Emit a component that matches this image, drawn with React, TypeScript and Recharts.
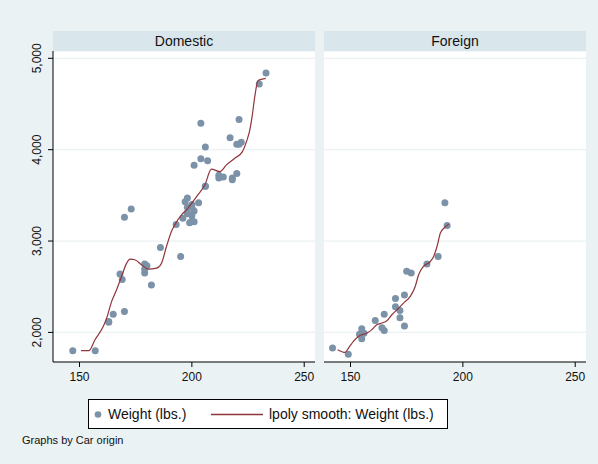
import { ComposedChart, Scatter, XAxis, YAxis, CartesianGrid } from "recharts";

if (typeof document !== "undefined") document.body.style.margin = "0";

const FONT = '"Liberation Sans", Arial, Helvetica, sans-serif';
const BG = "#eaf2f3";
const HEAD = "#d9e6eb";
const DOT = "#7b92a8";
const LINE = "#90353b";

// auto data: length (in.) and weight (lbs.)
const domLength = [186, 173, 168, 196, 222, 218, 170, 200, 207, 200, 221, 204, 204, 163, 212, 193, 200, 179, 197, 163, 206, 206, 220, 147, 179, 233, 230, 201, 169, 221, 212, 198, 217, 195, 220, 198, 198, 218, 200, 180, 206, 170, 157, 165, 182, 201, 214, 198, 201, 199, 203, 179];
const domWeight = [2930, 3350, 2640, 3250, 4080, 3670, 2230, 3280, 3880, 3400, 4330, 3900, 4290, 2110, 3690, 3180, 3220, 2750, 3430, 2120, 3600, 3600, 3740, 1800, 2650, 4840, 4720, 3830, 2580, 4060, 3720, 3370, 4130, 2830, 4060, 3310, 3300, 3690, 3370, 2730, 4030, 3260, 1800, 2200, 2520, 3330, 3700, 3470, 3210, 3200, 3420, 2690];
const forLength = [189, 174, 177, 170, 165, 170, 184, 161, 172, 149, 154, 192, 142, 164, 174, 165, 175, 172, 155, 155, 156, 193];
const forWeight = [2830, 2070, 2650, 2370, 2020, 2280, 2750, 2130, 2240, 1760, 1980, 3420, 1830, 2050, 2410, 2200, 2670, 2160, 2040, 1930, 1990, 3170];

// lpoly smooth
const domSmoothX = [150.7, 154.2, 156.9, 160.6, 162.1, 164.3, 166.5, 168.7, 171, 172.4, 174.6, 177.6, 180.6, 184.3, 186.5, 188.7, 191, 192.4, 195.4, 197.6, 202.1, 205.8, 208.7, 212.4, 215.4, 219.1, 222.5, 224.3, 225.8, 226.8, 228, 229.4, 230.9, 232.9];
const domSmoothY = [1800, 1800, 1920, 2066, 2157, 2339, 2467, 2612, 2758, 2802, 2795, 2740, 2693, 2704, 2758, 2940, 3110, 3177, 3287, 3341, 3487, 3615, 3786, 3760, 3833, 3906, 3979, 4088, 4216, 4361, 4580, 4755, 4770, 4781];
const forSmoothX = [144.3, 147.6, 149.1, 151.3, 153.5, 157.3, 159.5, 161.7, 164, 166.2, 168.4, 170.7, 173.6, 176.6, 178.8, 180.3, 182.5, 185.5, 187, 188.5, 190, 191.9, 193.7];
const forSmoothY = [1811, 1781, 1829, 1902, 1956, 1993, 2030, 2084, 2103, 2128, 2193, 2248, 2321, 2394, 2503, 2631, 2722, 2776, 2831, 2940, 3087, 3148, 3185];

const xTicks = [150, 200, 250];
const yTicks = [2000, 3000, 4000, 5000];
const panels = ["Domestic", "Foreign"];

const zip = (xs: number[], ys: number[]) => xs.map((x, i) => ({ x, y: ys[i] }));

const XTick = (p: any) => (
  <text x={p.x} y={381} textAnchor="middle" fontSize={12} fontFamily={FONT} fill="#111">
    {p.payload.value}
  </text>
);

const YTick = (p: any) => (
  <text transform={`translate(40.5, ${p.y}) rotate(-90)`} textAnchor="middle" fontSize={12} fontFamily={FONT} fill="#111">
    {p.payload.value.toLocaleString("en-US")}
  </text>
);

function Panel({ pts, smooth, left }: { pts: any[]; smooth: any[]; left: boolean }) {
  return (
    <ComposedChart
      width={left ? 320 : 274}
      height={395}
      margin={{ top: 51, right: left ? 5 : 12, bottom: 8, left: 0 }}
    >
      <CartesianGrid vertical={false} stroke={BG} strokeWidth={1.2} fill="#fff" fillOpacity={1} />
      <XAxis
        type="number"
        dataKey="x"
        domain={[138.2, 254.8]}
        ticks={xTicks}
        allowDataOverflow
        height={25}
        tickSize={5}
        stroke="#000"
        tickLine={{ stroke: "#000" }}
        tick={XTick}
      />
      <YAxis
        type="number"
        dataKey="y"
        domain={[1676, 5080]}
        ticks={yTicks}
        allowDataOverflow
        width={left ? 53 : 0}
        hide={!left}
        tickSize={5}
        stroke="#000"
        tick={YTick}
      />
      <Scatter
        data={pts}
        isAnimationActive={false}
        shape={(p: any) => <circle cx={p.cx} cy={p.cy} r={3.5} fill={DOT} />}
      />
      <Scatter
        data={smooth}
        isAnimationActive={false}
        line={{ stroke: LINE, strokeWidth: 1.2 }}
        lineJointType="monotoneX"
        shape={() => <g />}
      />
    </ComposedChart>
  );
}

export default function App() {
  const heads = [53, 324];
  return (
    <div style={{ position: "relative", width: 598, height: 464, background: BG, fontFamily: FONT, overflow: "hidden" }}>
      <div style={{ position: "absolute", left: 0, top: 0 }}>
        <Panel pts={zip(domLength, domWeight)} smooth={zip(domSmoothX, domSmoothY)} left />
      </div>
      <div style={{ position: "absolute", left: 324, top: 0 }}>
        <Panel pts={zip(forLength, forWeight)} smooth={zip(forSmoothX, forSmoothY)} left={false} />
      </div>
      {panels.map((name, i) => (
        <div
          key={name}
          style={{
            position: "absolute", left: heads[i], top: 31, width: 262, height: 20,
            background: HEAD, fontSize: 14, lineHeight: "20px", textAlign: "center", color: "#111",
          }}
        >
          {name}
        </div>
      ))}
      <div
        style={{
          position: "absolute", left: 88, top: 399, width: 358, height: 28,
          background: "#fff", border: "1px solid #000", fontSize: 14, color: "#111",
        }}
      >
        <svg width={358} height={28} style={{ position: "absolute", left: 0, top: 0 }}>
          <circle cx={9} cy={14.5} r={3.3} fill={DOT} />
          <line x1={122} x2={174} y1={14.5} y2={14.5} stroke={LINE} strokeWidth={1.5} />
        </svg>
        <span style={{ position: "absolute", left: 19, top: 0, lineHeight: "28px" }}>Weight (lbs.)</span>
        <span style={{ position: "absolute", left: 180, top: 0, lineHeight: "28px" }}>lpoly smooth: Weight (lbs.)</span>
      </div>
      <div style={{ position: "absolute", left: 22, top: 434, fontSize: 11, color: "#111" }}>Graphs by Car origin</div>
    </div>
  );
}
